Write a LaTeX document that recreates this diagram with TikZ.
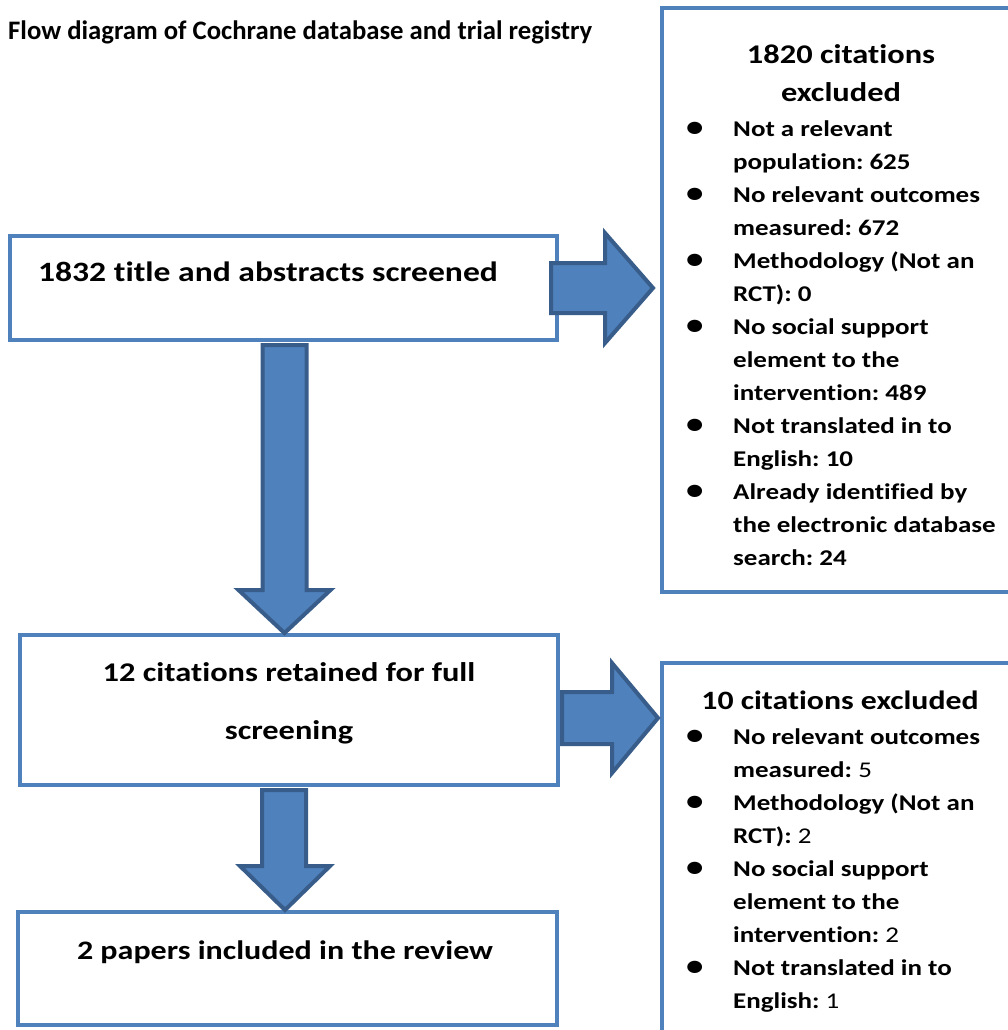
\documentclass[tikz,border=0pt]{standalone}
\usepackage{fontspec}
\setmainfont{Carlito}[Ligatures=NoCommon]
\newfontfamily\widefont{Carlito}[FakeStretch=1.2,Ligatures=NoCommon]
\usetikzlibrary{calc}
\definecolor{boxblue}{HTML}{4F81BD}
\definecolor{arrowedge}{HTML}{385D8A}
\newcommand{\bigtxt}[1]{\widefont\fontsize{#1}{34}\selectfont\bfseries}
\newcommand{\listtxt}{\widefont\fontsize{22.5}{33}\selectfont\bfseries}
\newcommand{\bul}{{\fontsize{29}{33}\selectfont\textbullet}}
\frenchspacing

\begin{document}
\begin{tikzpicture}[x=1pt,y=-1pt,
    flowbox/.style={draw=boxblue,line width=4pt,fill=white,inner sep=0pt},
    blockarrow/.style={fill=boxblue,draw=arrowedge,line width=4pt,line join=miter}]
    \useasboundingbox (0,0) rectangle (1007,1030);
    % title
    \node[anchor=west,inner sep=0pt,font=\fontsize{26.7}{30}\selectfont\bfseries] (title) at (8,32)
      {Flow diagram of Cochrane database and trial registry};
    % left column
    \node[flowbox,minimum width=547,minimum height=104] (screen) at (283.5,288) {};
    \node[font=\bigtxt{28}] (screentxt) at (268,272) {1832 title and abstracts screened};
    \node[flowbox,minimum width=538,minimum height=150] (retain) at (289,710) {};
    \node[font=\widefont\fontsize{27}{58}\selectfont\bfseries,align=center] (retaintxt) at (289,703)
      {12 citations retained for full\\screening};
    \node[flowbox,minimum width=539,minimum height=113] (incl) at (287.5,968.5) {};
    \node[font=\bigtxt{26.7}] (incltxt) at (285,952) {2 papers included in the review};
    % right column
    \node[flowbox,minimum width=353,minimum height=584] (excl1) at (838.5,300) {};
    \node[font=\widefont\fontsize{27}{38}\selectfont\bfseries,align=center] (excl1head) at (841,73)
      {1820 citations\\excluded};
    \node[anchor=north west,inner sep=0pt,font=\listtxt] (excl1list) at (686,113) {%
      \begin{tabular}{@{}p{47pt}@{}l@{}}
        \bul & Not a relevant\\
             & population: 625\\
        \bul & No relevant outcomes\\
             & measured: 672\\
        \bul & Methodology (Not an\\
             & RCT): 0\\
        \bul & No social support\\
             & element to the\\
             & intervention: 489\\
        \bul & Not translated in to\\
             & English: 10\\
        \bul & Already identified by\\
             & the electronic database\\
             & search: 24
      \end{tabular}};
    \node[flowbox,minimum width=353,minimum height=380] (excl2) at (838.5,853) {};
    \node[font=\bigtxt{26.5}] (excl2head) at (840,700) {10 citations excluded};
    \node[anchor=north west,inner sep=0pt,font=\listtxt] (excl2list) at (686,721) {%
      \begin{tabular}{@{}p{47pt}@{}l@{}}
        \bul & No relevant outcomes\\
             & measured: \mdseries 5\\
        \bul & Methodology (Not an\\
             & RCT): \mdseries 2\\
        \bul & No social support\\
             & element to the\\
             & intervention: \mdseries 2\\
        \bul & Not translated in to\\
             & English: \mdseries 1
      \end{tabular}};
    % block arrows
    \draw[blockarrow] let \p1=(screen.east), \p2=(excl1.west) in
      (\x1-8pt,\y1+25pt) -- (\x1+46pt,\y1+25pt) -- (\x1+46pt,\y1+55pt) -- (\x2-7pt,\y1)
      -- (\x1+46pt,\y1-55pt) -- (\x1+46pt,\y1-25pt) -- (\x1-8pt,\y1-25pt) -- cycle;
    \draw[blockarrow] let \p1=(retain.east), \p2=(excl2.west) in
      (\x1+2pt,\y1-8pt+26pt) -- (\x1+52pt,\y1-8pt+26pt) -- (\x1+52pt,\y1-8pt+55pt) -- (\x2-2pt,\y1-8pt)
      -- (\x1+52pt,\y1-8pt-55pt) -- (\x1+52pt,\y1-8pt-26pt) -- (\x1+2pt,\y1-8pt-26pt) -- cycle;
    \draw[blockarrow] let \p1=(screen.south), \p2=(retain.north) in
      (\x1-21pt,\y1-3pt) -- (\x1+23pt,\y1-3pt) -- (\x1+23pt,\y2+43pt) -- (\x1+47pt,\y2+43pt)
      -- (\x1+1pt,\y2) -- (\x1-45pt,\y2+43pt) -- (\x1-21pt,\y2+43pt) -- cycle;
    \draw[blockarrow] let \p1=(retain.south), \p2=(incl.north) in
      (\x1-27pt,\y1-3pt) -- (\x1+17pt,\y1-3pt) -- (\x1+17pt,\y2+44pt) -- (\x1+41pt,\y2+44pt)
      -- (\x1-4pt,\y2) -- (\x1-49pt,\y2+44pt) -- (\x1-27pt,\y2+44pt) -- cycle;
\end{tikzpicture}
\end{document}
